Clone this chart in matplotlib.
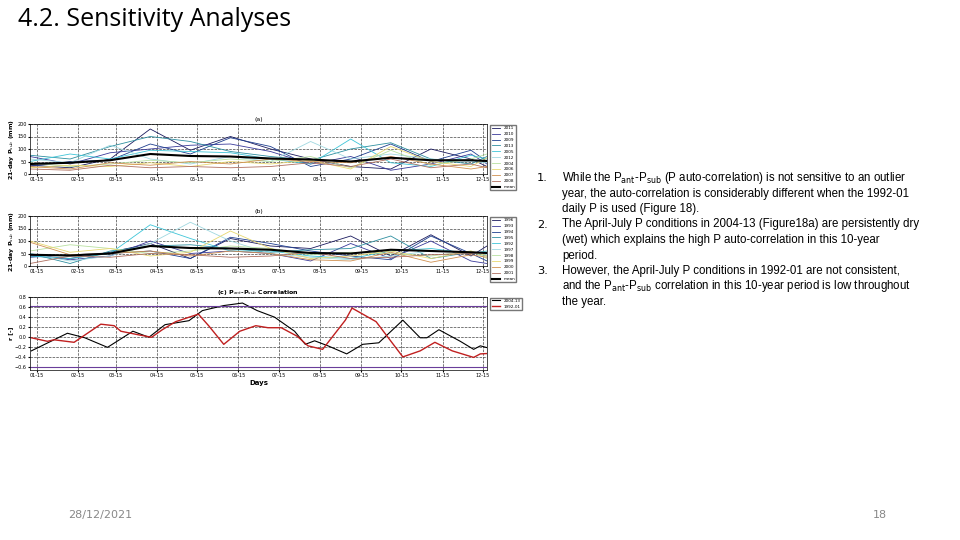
import matplotlib
matplotlib.use("Agg")
import matplotlib.pyplot as plt

days = [10, 40, 70, 100, 130, 160, 190, 220, 250, 280, 310, 340, 352]
tick_days = [15, 46, 74, 105, 135, 166, 196, 227, 258, 288, 319, 349]
tick_labels = ["01-15", "02-15", "03-15", "04-15", "05-15", "06-15", "07-15", "08-15", "09-15", "10-15", "11-15", "12-15"]

years_a = ["2011", "2010", "2009", "2013", "2005", "2012", "2004", "2006", "2007", "2008"]
vals_a = [
    [35, 25, 60, 180, 95, 150, 100, 60, 30, 20, 100, 60, 30],
    [70, 40, 85, 100, 115, 120, 90, 40, 70, 15, 40, 80, 40],
    [30, 50, 55, 120, 80, 145, 110, 30, 60, 120, 50, 95, 50],
    [75, 60, 110, 150, 130, 90, 70, 55, 100, 125, 60, 40, 70],
    [50, 80, 60, 95, 90, 85, 60, 40, 140, 45, 30, 75, 60],
    [60, 45, 115, 60, 40, 70, 50, 130, 60, 80, 60, 50, 45],
    [45, 30, 40, 55, 45, 60, 50, 70, 25, 95, 35, 60, 80],
    [25, 35, 30, 45, 30, 50, 40, 55, 20, 110, 50, 30, 65],
    [30, 20, 45, 35, 50, 40, 60, 50, 45, 70, 40, 20, 30],
    [20, 15, 35, 25, 30, 25, 30, 45, 30, 60, 25, 40, 25],
]
mean_a = [40, 45, 55, 80, 72, 70, 62, 58, 50, 65, 55, 55, 52]

years_b = ["1996", "1993", "1994", "1995", "1992", "1997", "1998", "1999", "2000", "2001"]
vals_b = [
    [40, 30, 55, 90, 30, 110, 80, 70, 120, 40, 125, 40, 80],
    [45, 25, 40, 100, 50, 60, 50, 20, 90, 30, 100, 20, 10],
    [35, 45, 50, 60, 30, 115, 90, 60, 40, 25, 120, 50, 20],
    [50, 10, 60, 80, 85, 70, 55, 65, 70, 120, 30, 55, 40],
    [40, 30, 50, 165, 110, 60, 60, 40, 30, 60, 70, 50, 60],
    [50, 20, 40, 90, 175, 100, 50, 35, 25, 40, 60, 55, 45],
    [60, 85, 70, 50, 60, 80, 70, 45, 55, 50, 40, 60, 30],
    [100, 55, 70, 40, 55, 140, 70, 30, 40, 60, 30, 60, 40],
    [95, 45, 50, 60, 40, 60, 50, 25, 20, 55, 15, 45, 35],
    [10, 40, 35, 50, 45, 35, 40, 55, 30, 35, 45, 50, 55],
]
mean_b = [45, 42, 50, 80, 72, 70, 65, 52, 50, 65, 60, 55, 52]

c_black_days = [11, 38, 51, 68, 87, 99, 111, 129, 139, 155, 169, 180, 193, 208, 216, 223, 233, 247, 259, 271, 289, 302, 307, 316, 332, 342, 347, 354]
c_black = [-0.27, 0.08, -0.01, -0.2, 0.12, 0.0, 0.25, 0.33, 0.53, 0.63, 0.68, 0.53, 0.4, 0.12, -0.14, -0.07, -0.17, -0.33, -0.14, -0.11, 0.34, -0.01, -0.01, 0.15, -0.08, -0.24, -0.17, -0.22]
c_red_days = [11, 23, 28, 43, 63, 73, 78, 91, 101, 109, 119, 136, 144, 155, 167, 179, 188, 198, 210, 218, 229, 246, 251, 269, 289, 302, 313, 326, 342, 347, 354]
c_red = [-0.01, -0.08, -0.05, -0.1, 0.26, 0.23, 0.12, 0.05, 0.0, 0.15, 0.31, 0.46, 0.22, -0.14, 0.12, 0.23, 0.19, 0.19, 0.02, -0.17, -0.24, 0.34, 0.58, 0.31, -0.39, -0.27, -0.1, -0.27, -0.4, -0.33, -0.32]

colors = ["#1a1a5e", "#3a3a9a", "#1f3f8f", "#2e8fa0", "#3fc5d8", "#a0d8e0", "#b8e0a0", "#e8d870", "#d09050", "#b07060"]

fig = plt.figure(figsize=(9.6, 5.4), dpi=100)
W, H = 960, 540
def ax_px(x0, y0, x1, y1):
    return fig.add_axes([x0 / W, 1 - y1 / H, (x1 - x0) / W, (y1 - y0) / H])

fig.text(18 / W, 1 - 20 / H, "4.2. Sensitivity Analyses", fontsize=18, va="center", ha="left", family="Open Sans")

def style(ax):
    ax.set_xlim(10, 352)
    ax.set_xticks(tick_days)
    ax.set_xticklabels(tick_labels)
    ax.tick_params(labelsize=3.5, length=1.5, pad=1)
    ax.grid(True, ls="--", color="#444444", lw=0.5)
    for s in ax.spines.values():
        s.set_linewidth(0.5)

for (y0, y1, yrs, vals, mean, lab) in [(124, 174, years_a, vals_a, mean_a, "(a)"), (216, 266, years_b, vals_b, mean_b, "(b)")]:
    ax = ax_px(30, y0, 487, y1)
    for yr, v, c in zip(yrs, vals, colors):
        ax.plot(days, v, color=c, lw=0.6, label=yr)
    ax.plot(days, mean, color="black", lw=1.5, label="mean")
    ax.set_ylim(0, 200)
    ax.set_yticks([0, 50, 100, 150, 200])
    style(ax)
    ax.set_title(lab, fontsize=4.5, pad=2)
    ax.set_ylabel("21-day P$_{sub}$ (mm)", fontsize=4.5, fontweight="bold", labelpad=1)
    ax.legend(loc="upper left", bbox_to_anchor=(1.003, 1.02), fontsize=3, frameon=True, handlelength=2, borderpad=0.3, labelspacing=0.45, fancybox=False, edgecolor="#555555")

ax = ax_px(30, 297, 487, 370)
ax.plot(c_black_days, c_black, color="black", lw=0.8, label="2004-13")
ax.plot(c_red_days, c_red, color="#c02020", lw=1.0, label="1992-01")
ax.axhline(0.63, color="#6a3d9a", lw=0.8)
ax.axhline(-0.6, color="#6a3d9a", lw=0.8)
ax.set_ylim(-0.65, 0.8)
ax.set_yticks([-0.6, -0.4, -0.2, 0, 0.2, 0.4, 0.6, 0.8])
style(ax)
ax.set_title("(c) P$_{ant}$-P$_{sub}$ Correlation", fontsize=4.5, fontweight="bold", pad=2)
ax.set_ylabel("r [-]", fontsize=4.5, fontweight="bold", labelpad=1)
ax.set_xlabel("Days", fontsize=5, fontweight="bold", labelpad=1)
ax.legend(loc="upper left", bbox_to_anchor=(1.003, 1.02), fontsize=3, frameon=True, handlelength=2, borderpad=0.3, fancybox=False, edgecolor="#555555")

items = [
    ("1.", ["While the P$_{\\mathrm{ant}}$-P$_{\\mathrm{sub}}$ (P auto-correlation) is not sensitive to an outlier",
            "year, the auto-correlation is considerably different when the 1992-01",
            "daily P is used (Figure 18)."]),
    ("2.", ["The April-July P conditions in 2004-13 (Figure18a) are persistently dry",
            "(wet) which explains the high P auto-correlation in this 10-year",
            "period."]),
    ("3.", ["However, the April-July P conditions in 1992-01 are not consistent,",
            "and the P$_{\\mathrm{ant}}$-P$_{\\mathrm{sub}}$ correlation in this 10-year period is low throughout",
            "the year."]),
]
y = 178
for num, lines in items:
    fig.text(537 / W, 1 - y / H, num, fontsize=8.2, va="center")
    for ln in lines:
        fig.text(562 / W, 1 - y / H, ln, fontsize=8.3, va="center", family="Liberation Sans")
        y += 15.5

fig.text(100 / W, 1 - 515 / H, "28/12/2021", fontsize=8, color="#888888", ha="center", va="center")
fig.text(880 / W, 1 - 515 / H, "18", fontsize=8, color="#888888", ha="center", va="center")

fig.savefig("out.png", dpi=100)
